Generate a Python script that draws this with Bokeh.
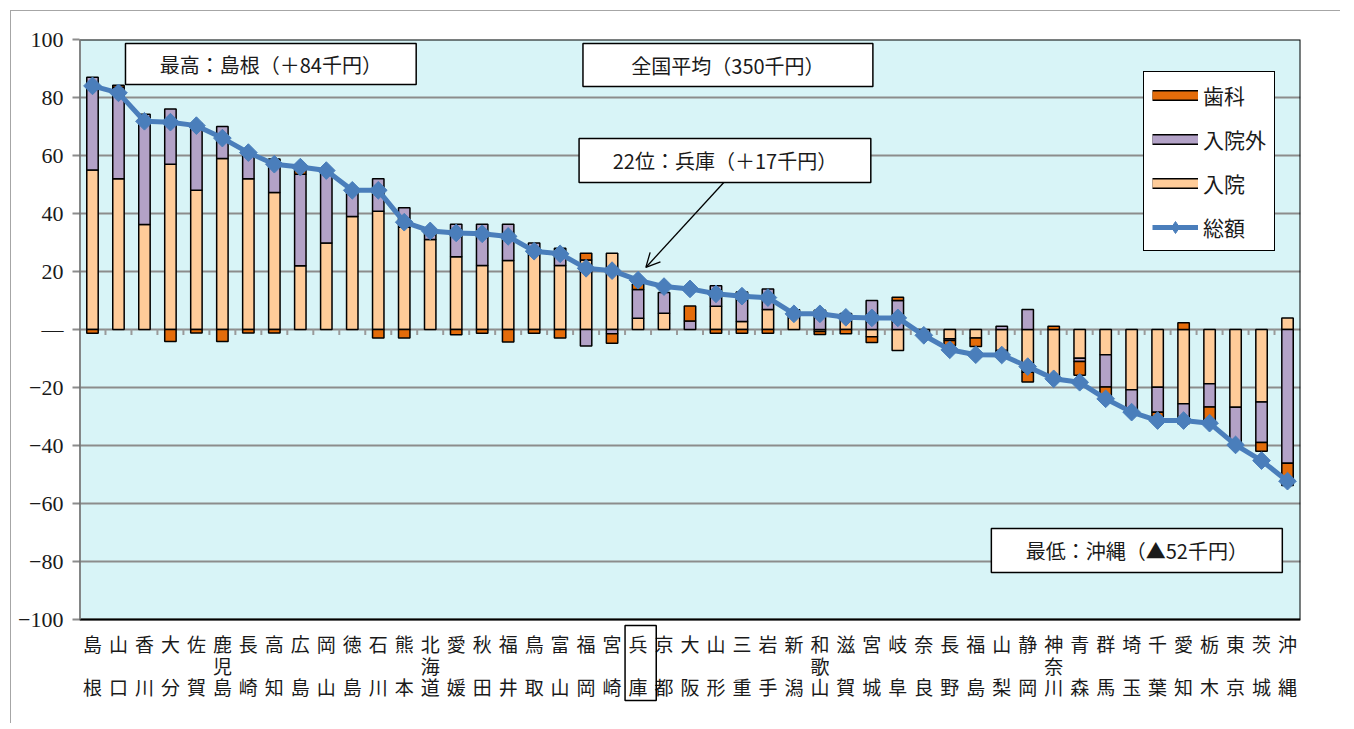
import numpy as np
from bokeh.plotting import figure
from bokeh.models import (FactorRange, Range1d, BoxAnnotation, Label, Legend, LegendItem,
                          Arrow, OpenHead, FixedTicker)
from bokeh.core.properties import value
from bokeh.embed import file_html
from bokeh.resources import INLINE

# ---------------- data ----------------
prefs = ["島根", "山口", "香川", "大分", "佐賀", "鹿児島", "長崎", "高知", "広島", "岡山",
         "徳島", "石川", "熊本", "北海道", "愛媛", "秋田", "福井", "鳥取", "富山", "福岡",
         "宮崎", "兵庫", "京都", "大阪", "山形", "三重", "岩手", "新潟", "和歌山", "滋賀",
         "宮城", "岐阜", "奈良", "長野", "福島", "山梨", "静岡", "神奈川", "青森", "群馬",
         "埼玉", "千葉", "愛知", "栃木", "東京", "茨城", "沖縄"]
highlight = "兵庫"

# 入院 (inpatient), 入院外 (outpatient), 歯科 (dental), 総額 (total) : 千円, deviation from national average
inpatient = [55, 52, 36.2, 57, 48, 59, 52, 47.2, 22, 29.8,
             39, 40.8, 35.3, 31, 25.1, 22.1, 23.8, 28, 22.1, 24,
             26.3, 3.9, 5.6, 0, 8, 2.8, 6.9, 6.8, -0.7, 4,
             -2.5, -7.2, -1.2, -3.2, -2.9, -7.2, -14.7, -16.2, -9.9, -8.7,
             -20.8, -19.9, -25.6, -18.7, -26.8, -25, 4]
outpatient = [32, 31.5, 38, 19, 23, 11, 9, 11.6, 31.5, 25,
              8.5, 11.2, 6.7, 3, 11.2, 14.2, 12.5, 1.8, 5.9, -5.7,
              -1.5, 9.9, 7.2, 2.9, 7.1, 10.1, 7.1, 0, 6.6, 1.5,
              10, 10, 0, -0.6, 0, 1.1, 6.9, 0, -1.1, -11.1,
              -7.5, -8.6, -6.9, -8, -13.8, -14, -46.1]
dental = [-1.3, 0.7, 0, -4.1, -1.2, -4.1, -1.2, -1.2, 1.5, 0,
          0, -2.9, -2.9, 0, -1.8, -1.3, -4.3, -1.3, -2.9, 2.3,
          -3.2, 1.9, 0, 5.2, -1.3, -1.3, -1.3, 0, -1.0, -1.5,
          -2, 1.1, -0.6, -1.7, -3, -1.2, -3.4, 1.1, -4.8, -4.6,
          0, -1.6, 2.3, -5.2, 0, -3, -7.7]
total = [84, 81.6, 71.8, 71.5, 70.3, 66, 61, 57, 56, 54.8,
         48, 48, 37, 34, 33.3, 33, 32.1, 27, 26.1, 21.1,
         20.3, 17, 14.8, 14, 12.3, 11.5, 11, 5.4, 5.4, 4.2,
         4, 4, -2, -7, -8.7, -8.8, -12.8, -17, -18.2, -23.9,
         -28.5, -31.4, -31.4, -32.3, -39.8, -45.2, -52.3]

series_names = ["入院", "入院外", "歯科"]
series_values = [inpatient, outpatient, dental]
series_colors = ["#FFCC99", "#B3A2C7", "#E46C0A"]
line_name = "総額"
line_color = "#4A7EBB"

y_ticks = [-100, -80, -60, -40, -20, 0, 20, 40, 60, 80, 100]
Y_MIN, Y_MAX = -100, 100

JP = "Noto Sans CJK JP"
PX_PER_UNIT = 2.9          # 580 px plot area for 200 units
LABEL_AREA_PX = 100        # room under the plot area for the category names
n = len(prefs)

# ---------------- figure ----------------
p = figure(x_range=FactorRange(factors=prefs, range_padding=0),
           y_range=Range1d(Y_MIN - LABEL_AREA_PX / PX_PER_UNIT, Y_MAX),
           frame_width=1221, frame_height=580 + LABEL_AREA_PX,
           min_border_left=68, min_border_top=28, min_border_right=40, min_border_bottom=4,
           output_backend="svg", toolbar_location=None,
           background_fill_color="white", border_fill_color="white")
p.margin = (10, 0, 0, 10)
p.styles = {"border-left": "1px solid #A6A6A6", "border-top": "1px solid #A6A6A6"}
p.outline_line_color = None

# plot area background
p.add_layout(BoxAnnotation(left=0, right=n, top=Y_MAX, bottom=Y_MIN,
                           fill_color="#D8F4F7", fill_alpha=1, line_color=None, level="image"))

p.xgrid.visible = False
p.ygrid.ticker = FixedTicker(ticks=y_ticks)
p.ygrid.grid_line_color = "#8C8C8C"
p.ygrid.grid_line_width = 1.8

p.xaxis.visible = False

# y axis
p.yaxis.ticker = FixedTicker(ticks=y_ticks)
p.yaxis.major_label_overrides = {t: ("—" if t == 0 else str(t).replace("-", "−")) for t in y_ticks}
p.yaxis.axis_line_color = None
p.yaxis.major_tick_line_color = "#8C8C8C"
p.yaxis.major_tick_line_width = 2
p.yaxis.major_tick_out = 7
p.yaxis.major_tick_in = 0
p.yaxis.minor_tick_line_color = None
p.yaxis.major_label_text_font = "Liberation Serif"
p.yaxis.major_label_text_font_size = "22px"
p.yaxis.major_label_text_color = "#1a1a1a"
p.yaxis.major_label_standoff = 9

# small category-boundary ticks on the zero line
bounds = np.arange(1, n)
p.segment(x0=bounds, y0=np.zeros(len(bounds)), x1=bounds, y1=np.full(len(bounds), -1.9),
          line_color="#9A9A9A", line_width=2)

# stacked bars with separate positive / negative stacks
pos = np.zeros(n)
neg = np.zeros(n)
for name, vals, color in zip(series_names, series_values, series_colors):
    v = np.array(vals, dtype=float)
    bottom = np.where(v >= 0, pos, neg)
    top = bottom + v
    pos = np.where(v >= 0, top, pos)
    neg = np.where(v < 0, top, neg)
    top_draw = np.where(v == 0, np.nan, top)
    p.vbar(x=prefs, bottom=bottom, top=top_draw, width=0.44,
           fill_color=color, line_color="black", line_width=1.5)

# total line
p.line(x=prefs, y=total, line_color=line_color, line_width=5)
p.scatter(x=prefs, y=total, marker="square", angle=np.pi / 4, size=12.5,
          fill_color=line_color, line_color=line_color)

# plot-area border and y axis line
p.add_layout(BoxAnnotation(left=0, right=n, top=Y_MAX, bottom=Y_MIN,
                           fill_alpha=0, line_color="black", line_alpha=1, line_width=2))
p.add_layout(BoxAnnotation(left=0, right=0, top=Y_MAX, bottom=Y_MIN,
                           fill_alpha=0, line_color="#8C8C8C", line_alpha=1, line_width=2.5))

# category names written vertically under the plot area
row_px = [643, 664.5, 686]           # pixel rows (from plot top at 39, zero at 329)
row_y = [-(r - 329) / PX_PER_UNIT for r in row_px]
lx, ly, lt = [], [], []
for name in prefs:
    chars = list(name)
    rows = [0, 2] if len(chars) == 2 else [0, 1, 2]
    for c, r in zip(chars, rows):
        lx.append(name)
        ly.append(row_y[r])
        lt.append(c)
p.text(x=lx, y=ly, text=lt, text_font=value(JP), text_font_size="19px",
       text_align="center", text_baseline="middle", text_color="#1a1a1a")

hi = prefs.index(highlight)
p.add_layout(BoxAnnotation(left=hi - 0.0, right=hi + 1.2,
                           top=-(625 - 329) / PX_PER_UNIT, bottom=-(700 - 329) / PX_PER_UNIT,
                           fill_alpha=0, line_color="black", line_alpha=1, line_width=1.5))

# ---------------- legend (proxy renderers) ----------------
def proxy_bar(color):
    r1 = p.line(x=[prefs[0]], y=[np.nan], line_color="black", line_width=11)
    r2 = p.line(x=[prefs[0]], y=[np.nan], line_color=color, line_width=8)
    return [r1, r2]

items = []
for name in ["歯科", "入院外", "入院"]:
    items.append(LegendItem(label=name, renderers=proxy_bar(series_colors[series_names.index(name)])))
lr = p.line(x=[prefs[0]], y=[np.nan], line_color=line_color, line_width=5)
ls = p.scatter(x=[prefs[0]], y=[np.nan], marker="diamond", size=21,
               fill_color=line_color, line_color=line_color)
items.append(LegendItem(label=line_name, renderers=[lr, ls]))

legend = Legend(items=items, location=(1064, 468), margin=0, padding=8,
                spacing=14, glyph_width=46, glyph_height=30, label_height=30,
                label_standoff=5, label_text_font=JP, label_text_font_size="21px",
                label_text_color="#1a1a1a",
                border_line_color="black", border_line_alpha=1, border_line_width=1.5,
                background_fill_color="white", background_fill_alpha=1)
p.add_layout(legend)

# ---------------- annotation boxes ----------------
def note(left, right, top, bottom, text):
    p.add_layout(BoxAnnotation(left=left, right=right, top=top, bottom=bottom,
                               fill_color="white", fill_alpha=1,
                               line_color="black", line_alpha=1, line_width=1.5))
    p.add_layout(Label(x=(left + right) / 2, y=(top + bottom) / 2, text=text,
                       text_align="center", text_baseline="middle",
                       text_font=JP, text_font_size="20px", text_color="#1a1a1a"))

note(1.77, 12.96, 98.6, 84.5, "最高：島根（＋84千円）")
note(19.38, 30.54, 98.6, 83.8, "全国平均（350千円）")
note(19.23, 30.46, 65.9, 50.7, "22位：兵庫（＋17千円）")
note(35.1, 46.3, -68.6, -83.8, "最低：沖縄（▲52千円）")

p.add_layout(Arrow(end=OpenHead(size=14, line_width=1.3, line_color="black"),
                   x_start=24.8, y_start=50.7, x_end=21.8, y_end=21.4,
                   line_color="black", line_width=1.3))

open("out.html", "w").write(file_html(p, INLINE))
